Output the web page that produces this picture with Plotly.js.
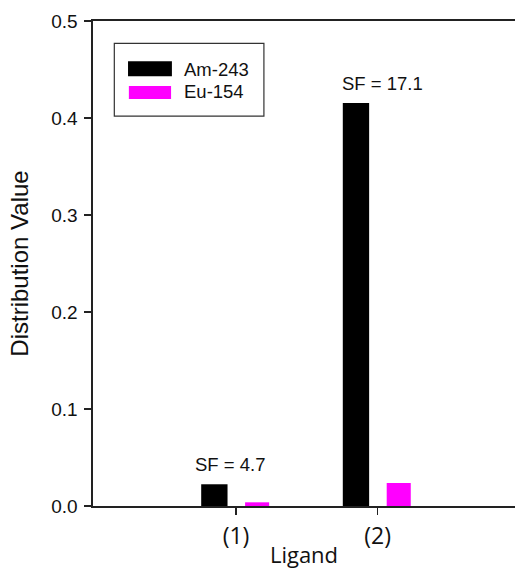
<!DOCTYPE html>
<html>
<head>
<meta charset="utf-8">
<script src="https://cdn.plot.ly/plotly-3.0.1.min.js"></script>
<style>
  html, body { margin: 0; padding: 0; background: #fff; }
  #chart { width: 515px; height: 569px; }
</style>
</head>
<body>
<div id="chart"></div>
<script>
// Ligand categories and distribution values per isotope
const ligands = [1, 2];
const ligandLabels = ['(1)', '(2)'];
const seriesNames = ['Am-243', 'Eu-154'];
const am243 = [0.0224, 0.4155];
const eu154 = [0.0038, 0.0237];
const sfLabels = ['SF = 4.7', 'SF = 17.1'];
const seriesColors = ['#000000', '#ff00ff'];

const baseFont = 'Liberation Sans, Arial, sans-serif';
const xFont = 'Open Sans, sans-serif';

const traces = [
  {
    type: 'bar', name: seriesNames[0], x: ligands, y: am243,
    width: 0.186, offset: -0.246,
    marker: { color: seriesColors[0], line: { width: 0 } },
    showlegend: false, hoverinfo: 'skip'
  },
  {
    type: 'bar', name: seriesNames[1], x: ligands, y: eu154,
    width: 0.17, offset: 0.064,
    marker: { color: seriesColors[1], line: { width: 0 } },
    showlegend: false, hoverinfo: 'skip'
  }
];

// Separation factor labels above each Am-243 bar
const sfShift = [-6, 5];
const annotations = sfLabels.map((t, i) => ({
  x: ligands[i], y: am243[i], xref: 'x', yref: 'y',
  text: t, showarrow: false, xanchor: 'center', yanchor: 'bottom',
  xshift: sfShift[i], yshift: 7,
  font: { family: baseFont, size: 18.5, color: '#111' }
}));

// Legend drawn by hand so the swatches are wide rectangles
const legendBox = { x0: 0.0505, x1: 0.405, y0: 0.804, y1: 0.954 };
const swatches = [
  { x0: 0.083, x1: 0.187, y0: 0.886, y1: 0.917, ty: 0.901 },
  { x0: 0.085, x1: 0.185, y0: 0.839, y1: 0.866, ty: 0.854 }
];
const shapes = [
  { type: 'rect', xref: 'paper', yref: 'paper', ...legendBox,
    line: { color: '#333', width: 1.2 }, fillcolor: 'rgba(0,0,0,0)' }
];
swatches.forEach((s, i) => {
  shapes.push({ type: 'rect', xref: 'paper', yref: 'paper',
    x0: s.x0, x1: s.x1, y0: s.y0, y1: s.y1,
    line: { width: 0 }, fillcolor: seriesColors[i] });
  annotations.push({ xref: 'paper', yref: 'paper', x: 0.2102, y: s.ty,
    text: seriesNames[i], showarrow: false, xanchor: 'left', yanchor: 'middle',
    font: { family: baseFont, size: 18.5, color: '#111' } });
});

const layout = {
  width: 515, height: 569,
  margin: { l: 93, r: 0, t: 21, b: 63, pad: 0 },
  paper_bgcolor: '#fff', plot_bgcolor: '#fff',
  showlegend: false,
  xaxis: {
    range: [-0.01, 2.97],
    tickvals: ligands, ticktext: ligandLabels,
    ticks: 'outside', ticklen: 7, tickwidth: 1.2, tickcolor: '#222',
    showline: true, linecolor: '#222', linewidth: 1.6, mirror: true,
    showgrid: false, zeroline: false,
    tickfont: { family: xFont, size: 23, color: '#111' },
    ticklabelstandoff: 2,
    title: { text: 'Ligand', font: { family: xFont, size: 22, color: '#111' }, standoff: 6 },
    automargin: false
  },
  yaxis: {
    range: [0, 0.5], dtick: 0.1, tickformat: '.1f',
    ticks: 'outside', ticklen: 7, tickwidth: 1.2, tickcolor: '#222',
    showline: true, linecolor: '#222', linewidth: 1.6,
    showgrid: false, zeroline: false,
    tickfont: { family: baseFont, size: 19, color: '#111' },
    ticklabelstandoff: 3,
    title: { text: 'Distribution Value', font: { family: baseFont, size: 24, color: '#111' }, standoff: 16 },
    automargin: false
  },
  annotations: annotations,
  shapes: shapes
};

Plotly.newPlot('chart', traces, layout, { displayModeBar: false, staticPlot: true });
</script>
</body>
</html>
